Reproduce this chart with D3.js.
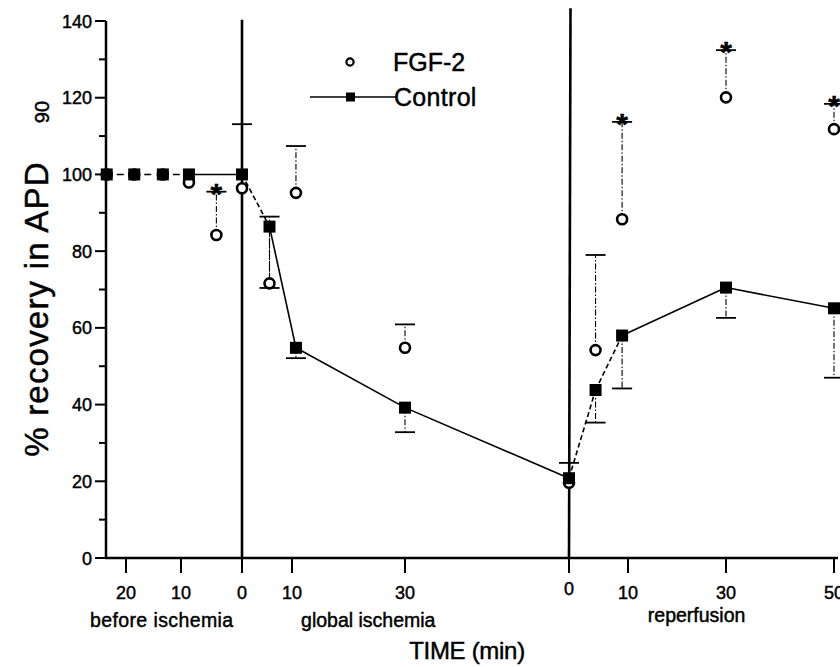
<!DOCTYPE html>
<html>
<head>
<meta charset="utf-8">
<script src="https://cdn.jsdelivr.net/npm/d3@7/dist/d3.min.js"></script>
<style>
  html, body { margin: 0; padding: 0; background: #fff; }
  svg { display: block; }
  text { font-family: "Liberation Sans", Arial, sans-serif; fill: #000; stroke: #000; stroke-width: 0.45px; }
</style>
</head>
<body>
<svg id="chart" width="840" height="667"></svg>
<script>
// ---------------- data ----------------
const phases = ["before ischemia", "global ischemia", "reperfusion"];
const ischemiaLength = 60; // minutes of global ischemia

// Control (filled squares): phase index, minute within phase, mean, error (downward)
const ctrlPhase = [0, 0, 0, 0, 0, 1, 1, 1, 2, 2, 2, 2, 2];
const ctrlMin   = [-23.5, -18.5, -13.3, -8.7, 0, 5.5, 10.7, 30, 0, 4.5, 9, 30, 50];
const ctrlMean  = [100, 100, 100, 100, 100, 86.4, 54.8, 39.2, 20.8, 43.8, 58.0, 70.5, 65.1];
const ctrlErr   = [0, 0, 0, 0, 0, 16.0, 2.7, 6.4, 0, 8.5, 13.8, 7.9, 18.1];

// FGF-2 (open circles): phase index, minute, mean, error (upward), significance
const fgfPhase = [0, 0, 0, 0, 0, 0, 1, 1, 1, 2, 2, 2, 2, 2];
const fgfMin   = [-23.5, -18.5, -13.3, -8.7, -4.2, 0, 5.5, 10.7, 30, 0, 4.5, 9, 30, 50];
const fgfMean  = [100, 100, 100, 97.9, 84.2, 96.4, 71.6, 95.2, 54.8, 19.6, 54.2, 88.3, 120.1, 111.8];
const fgfErr   = [0, 0, 0, 0, 11.3, 16.7, 17.4, 12.2, 6.1, 5.2, 24.8, 25.4, 12.3, 6.6];
const fgfSig   = [false, false, false, false, true, false, false, false, false, false, false, true, true, true];

// x tick positions (phase, minute) and labels
const tickPhase  = [0, 0, 0, 1, 1, 2, 2, 2, 2];
const tickMin    = [-20, -10, 0, 10, 30, 0, 10, 30, 50];
const tickLabels = ["20", "10", "0", "10", "30", "0", "10", "30", "50"];

const yTicks = [0, 20, 40, 60, 80, 100, 120, 140];
const seriesNames = ["FGF-2", "Control"];
const xTitle = "TIME (min)";
const yTitle = "% recovery in APD";
const ySub = "90";

// ---------------- scales ----------------
const toT = (p, m) => (p === 2 ? ischemiaLength + m : m);

const x = d3.scaleLinear()
  .domain([-20, -10, 0, 10, 30, 60, 70, 90, 110])
  .range([126, 181, 242, 292, 405, 569, 628, 726, 834]);
const y = d3.scaleLinear().domain([0, 140]).range([558, 21]);

const axisX0 = 106, axisX1 = 838;

const svg = d3.select("#chart");

// ---------------- axes ----------------
const yAxis = svg.append("g");
yAxis.append("line").attr("x1", axisX0).attr("x2", axisX0)
  .attr("y1", y(140)).attr("y2", y(0))
  .attr("stroke", "#000").attr("stroke-width", 2.5);
d3.range(0, 141, 10).forEach(v => {
  const major = v % 20 === 0;
  yAxis.append("line")
    .attr("x1", axisX0 - (major ? 11 : 7)).attr("x2", axisX0)
    .attr("y1", y(v)).attr("y2", y(v))
    .attr("stroke", "#000").attr("stroke-width", 2);
});
yAxis.selectAll("text.ytl").data(yTicks).join("text")
  .attr("class", "ytl")
  .attr("x", axisX0 - 14).attr("y", d => y(d) + 6.5)
  .attr("text-anchor", "end").attr("font-size", 18)
  .text(d => d);

const xAxis = svg.append("g");
xAxis.append("line").attr("x1", axisX0 - 1).attr("x2", axisX1)
  .attr("y1", y(0)).attr("y2", y(0))
  .attr("stroke", "#000").attr("stroke-width", 2.5);
tickLabels.forEach((lab, i) => {
  const xp = x(toT(tickPhase[i], tickMin[i]));
  xAxis.append("line").attr("x1", xp).attr("x2", xp)
    .attr("y1", y(0)).attr("y2", y(0) + 15)
    .attr("stroke", "#000").attr("stroke-width", 2);
  xAxis.append("text").attr("x", xp).attr("y", y(0) + (lab === "0" && tickPhase[i] === 2 ? 37 : 41))
    .attr("text-anchor", "middle").attr("font-size", 18)
    .text(lab);
});

// phase labels
const phaseCenters = [x(-13.5), x(23.5), x(84)];
const phaseBase = [627, 627, 622];
phases.forEach((p, i) => {
  svg.append("text").attr("x", phaseCenters[i]).attr("y", phaseBase[i])
    .attr("text-anchor", "middle").attr("font-size", 19.5)
    .attr("letter-spacing", i === 0 ? 0.4 : 0).text(p);
});

svg.append("text").attr("x", 467).attr("y", 659)
  .attr("text-anchor", "middle").attr("font-size", 24)
  .attr("letter-spacing", -0.3).text(xTitle);

svg.append("text").attr("transform", "translate(48,309) rotate(-90)")
  .attr("text-anchor", "middle").attr("font-size", 33)
  .attr("letter-spacing", 1.2).text(yTitle);
svg.append("text").attr("transform", "translate(49,112) rotate(-90)")
  .attr("text-anchor", "middle").attr("font-size", 20).text(ySub);

// vertical phase boundary lines
svg.append("line").attr("x1", x(0)).attr("x2", x(0))
  .attr("y1", y(140.3)).attr("y2", y(0))
  .attr("stroke", "#000").attr("stroke-width", 2.6);
svg.append("line").attr("x1", x(ischemiaLength) + 1.5).attr("x2", x(ischemiaLength))
  .attr("y1", y(143.3)).attr("y2", y(0))
  .attr("stroke", "#000").attr("stroke-width", 2.6);

// ---------------- error bars ----------------
const eb = svg.append("g");
function errorBar(xp, yFrom, yTo) {
  eb.append("line").attr("x1", xp).attr("x2", xp)
    .attr("y1", yFrom).attr("y2", yTo)
    .attr("stroke", "#000").attr("stroke-width", 1.1)
    .attr("stroke-dasharray", "6,2,1.5,2");
  eb.append("line").attr("x1", xp - 10).attr("x2", xp + 10)
    .attr("y1", yTo).attr("y2", yTo)
    .attr("stroke", "#000").attr("stroke-width", 1.8);
}
fgfMean.forEach((m, i) => {
  if (fgfErr[i] > 0) {
    const xp = x(toT(fgfPhase[i], fgfMin[i]));
    errorBar(xp, y(m), y(m + fgfErr[i]));
    if (fgfSig[i]) {
      svg.append("text").attr("x", xp).attr("y", y(m + fgfErr[i]) + 12)
        .attr("text-anchor", "middle").attr("font-size", 30)
        .attr("font-weight", "bold").text("*");
    }
  }
});
ctrlMean.forEach((m, i) => {
  if (ctrlErr[i] > 0) {
    const xp = x(toT(ctrlPhase[i], ctrlMin[i]));
    errorBar(xp, y(m), y(m - ctrlErr[i]));
  }
});

// ---------------- control line ----------------
const ctrlPts = ctrlMean.map((m, i) => [x(toT(ctrlPhase[i], ctrlMin[i])), y(m)]);
const dashedSegs = new Set([0, 1, 2, 4, 8, 9]);
const line = d3.line();
for (let i = 0; i < ctrlPts.length - 1; i++) {
  svg.append("path").attr("d", line([ctrlPts[i], ctrlPts[i + 1]]))
    .attr("fill", "none").attr("stroke", "#000")
    .attr("stroke-width", 1.6)
    .attr("stroke-dasharray", dashedSegs.has(i) ? (i < 3 ? "0,10,7,40" : "5,3") : null);
}

// ---------------- markers ----------------
svg.append("g").selectAll("circle").data(fgfMean).join("circle")
  .attr("cx", (d, i) => x(toT(fgfPhase[i], fgfMin[i])))
  .attr("cy", d => y(d))
  .attr("r", 5).attr("fill", "#fff").attr("stroke", "#000").attr("stroke-width", 2.6);

const sq = 12;
svg.append("g").selectAll("rect").data(ctrlMean).join("rect")
  .attr("x", (d, i) => x(toT(ctrlPhase[i], ctrlMin[i])) - sq / 2)
  .attr("y", d => y(d) - sq / 2)
  .attr("width", sq).attr("height", sq).attr("fill", "#000");

// ---------------- legend ----------------
const lg = svg.append("g");
lg.append("circle").attr("cx", 350).attr("cy", 62).attr("r", 3.6)
  .attr("fill", "#fff").attr("stroke", "#000").attr("stroke-width", 2.2);
lg.append("text").attr("x", 393).attr("y", 71).attr("font-size", 25).text(seriesNames[0]);
lg.append("line").attr("x1", 310).attr("x2", 396).attr("y1", 97).attr("y2", 97)
  .attr("stroke", "#000").attr("stroke-width", 1.6);
lg.append("rect").attr("x", 346).attr("y", 92.5).attr("width", 9).attr("height", 9).attr("fill", "#000");
lg.append("text").attr("x", 394).attr("y", 106).attr("font-size", 25)
  .attr("letter-spacing", 0.3).text(seriesNames[1]);
</script>
</body>
</html>
